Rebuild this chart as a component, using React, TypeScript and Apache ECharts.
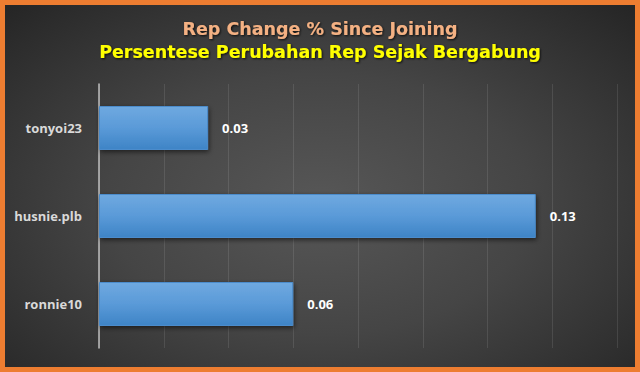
import React, { useEffect, useRef } from "react";
import * as echarts from "echarts";

const titleText = "Rep Change % Since Joining";
const subtitleText = "Persentese Perubahan Rep Sejak Bergabung";
const categories = ["tonyoi23", "husnie.plb", "ronnie10"];
const values = [0.0337, 0.1349, 0.06];

export default function App() {
  const ref = useRef<HTMLDivElement>(null);

  useEffect(() => {
    document.body.style.margin = "0";
    const chart = echarts.init(ref.current!, undefined, { renderer: "svg" });
    chart.setOption({
      animation: false,
      backgroundColor: "transparent",
      graphic: [
        {
          type: "text",
          x: 320,
          y: 29,
          style: {
            text: titleText,
            fill: "#f4b183",
            font: "bold 17.5px 'DejaVu Sans'",
            align: "center",
            verticalAlign: "middle",
            textShadowColor: "rgba(0,0,0,0.8)",
            textShadowBlur: 2,
            textShadowOffsetX: 1,
            textShadowOffsetY: 1,
          },
        },
        {
          type: "text",
          x: 320,
          y: 52,
          style: {
            text: subtitleText,
            fill: "#ffff00",
            font: "bold 17.5px 'DejaVu Sans'",
            align: "center",
            verticalAlign: "middle",
            textShadowColor: "rgba(0,0,0,0.8)",
            textShadowBlur: 2,
            textShadowOffsetX: 1,
            textShadowOffsetY: 1,
          },
        },
      ],
      grid: { left: 99, top: 84, width: 518, height: 264, containLabel: false },
      xAxis: {
        type: "value",
        min: 0,
        max: 0.16,
        interval: 0.02,
        axisLabel: { show: false },
        axisLine: { show: false },
        axisTick: { show: false },
        splitLine: { lineStyle: { color: "rgba(255,255,255,0.10)", width: 1 } },
      },
      yAxis: {
        type: "category",
        data: categories,
        inverse: true,
        axisTick: { show: false },
        axisLine: { lineStyle: { color: "#bfbfbf", width: 1.5 } },
        axisLabel: {
          color: "#d9d9d9",
          fontFamily: "'Open Sans'",
          fontWeight: "bold",
          fontSize: 13,
          margin: 17,
        },
      },
      series: [
        {
          type: "bar",
          data: values,
          barWidth: 44,
          itemStyle: {
            color: new echarts.graphic.LinearGradient(0, 0, 0, 1, [
              { offset: 0, color: "#6fa9e0" },
              { offset: 0.5, color: "#5a9ad8" },
              { offset: 1, color: "#3e84c6" },
            ]),
            borderColor: "#4b8ccc",
            borderWidth: 1,
            shadowColor: "rgba(0,0,0,0.55)",
            shadowBlur: 5,
            shadowOffsetX: 1,
            shadowOffsetY: 2,
          },
          label: {
            show: true,
            position: "right",
            distance: 14,
            color: "#ffffff",
            fontFamily: "'Open Sans'",
            fontWeight: "bold",
            fontSize: 13,
            formatter: (p: any) => Number(p.value).toFixed(2),
          },
        },
      ],
    });
    return () => chart.dispose();
  }, []);

  return (
    <div
      style={{
        position: "absolute",
        left: 0,
        top: 0,
        width: 640,
        height: 372,
        boxSizing: "border-box",
        border: "5px solid #ed7d31",
        background:
          "radial-gradient(ellipse 75% 80% at 50% 55%, #575757 0%, #454545 45%, #2c2c2c 85%, #222222 100%)",
      }}
    >
      <div
        ref={ref}
        style={{ position: "absolute", left: -5, top: -5, width: 640, height: 372 }}
      />
    </div>
  );
}
